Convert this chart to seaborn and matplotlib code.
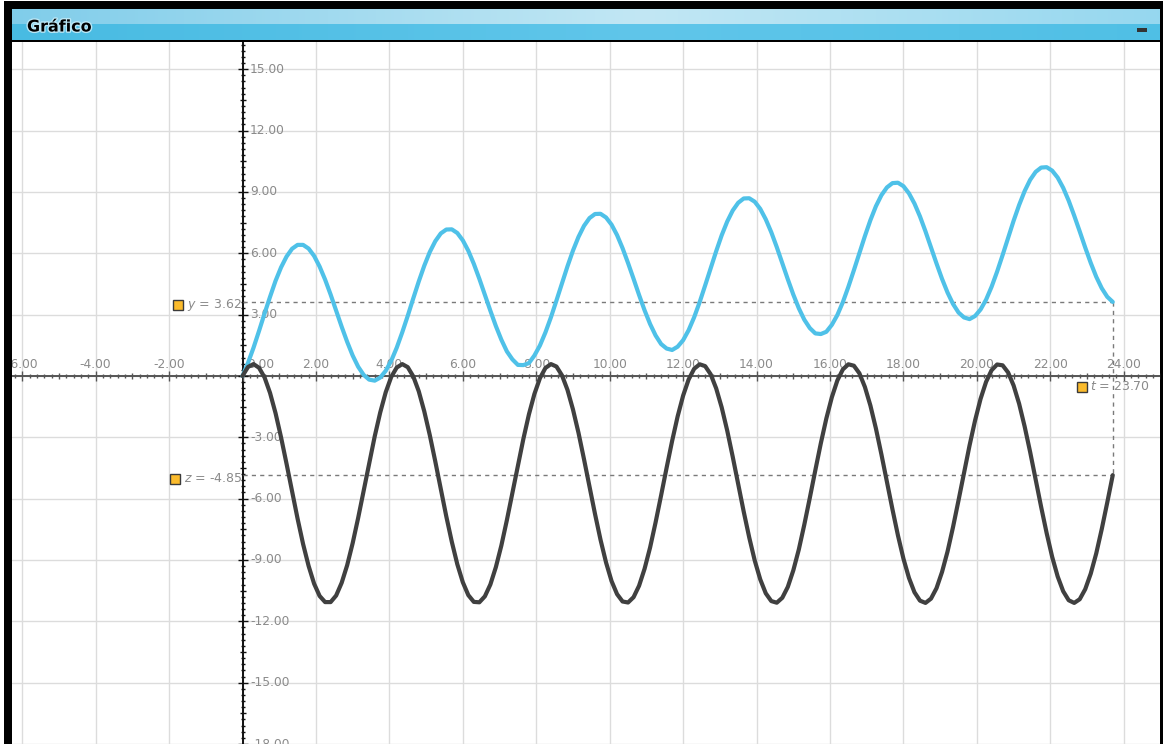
import numpy as np
import matplotlib
matplotlib.use("Agg")
import matplotlib.pyplot as plt
import matplotlib.transforms as mtrans
import matplotlib.patheffects as pe
from matplotlib.patches import Rectangle
import seaborn as sns

# ---------------- data ----------------
t = [0.0, 0.15, 0.3, 0.45, 0.6, 0.75, 0.9, 1.05, 1.2, 1.35,
     1.5, 1.65, 1.8, 1.95, 2.1, 2.25, 2.4, 2.55, 2.7, 2.85,
     3.0, 3.15, 3.3, 3.45, 3.6, 3.75, 3.9, 4.05, 4.2, 4.35,
     4.5, 4.65, 4.8, 4.95, 5.1, 5.25, 5.4, 5.55, 5.7, 5.85,
     6.0, 6.15, 6.3, 6.45, 6.6, 6.75, 6.9, 7.05, 7.2, 7.35,
     7.5, 7.65, 7.8, 7.95, 8.1, 8.25, 8.4, 8.55, 8.7, 8.85,
     9.0, 9.15, 9.3, 9.45, 9.6, 9.75, 9.9, 10.05, 10.2, 10.35,
     10.5, 10.65, 10.8, 10.95, 11.1, 11.25, 11.4, 11.55, 11.7, 11.85,
     12.0, 12.15, 12.3, 12.45, 12.6, 12.75, 12.9, 13.05, 13.2, 13.35,
     13.5, 13.65, 13.8, 13.95, 14.1, 14.25, 14.4, 14.55, 14.7, 14.85,
     15.0, 15.15, 15.3, 15.45, 15.6, 15.75, 15.9, 16.05, 16.2, 16.35,
     16.5, 16.65, 16.8, 16.95, 17.1, 17.25, 17.4, 17.55, 17.7, 17.85,
     18.0, 18.15, 18.3, 18.45, 18.6, 18.75, 18.9, 19.05, 19.2, 19.35,
     19.5, 19.65, 19.8, 19.95, 20.1, 20.25, 20.4, 20.55, 20.7, 20.85,
     21.0, 21.15, 21.3, 21.45, 21.6, 21.75, 21.9, 22.05, 22.2, 22.35,
     22.5, 22.65, 22.8, 22.95, 23.1, 23.25, 23.4, 23.55, 23.7]

y_values = [0.00, 0.64, 1.38, 2.20, 3.05, 3.87, 4.65, 5.31, 5.84, 6.22,
            6.41, 6.41, 6.23, 5.87, 5.35, 4.71, 3.98, 3.20, 2.41, 1.67,
            1.00, 0.45, 0.05, -0.18, -0.23, -0.08, 0.25, 0.74, 1.38, 2.13,
            2.94, 3.79, 4.62, 5.39, 6.06, 6.59, 6.97, 7.16, 7.17, 6.99,
            6.63, 6.12, 5.48, 4.75, 3.97, 3.19, 2.44, 1.77, 1.20, 0.81,
            0.54, 0.53, 0.63, 1.00, 1.49, 2.13, 2.87, 3.69, 4.53, 5.36,
            6.13, 6.80, 7.34, 7.72, 7.92, 7.93, 7.75, 7.40, 6.89, 6.25,
            5.52, 4.75, 3.96, 3.21, 2.54, 1.98, 1.56, 1.34, 1.27, 1.43,
            1.75, 2.24, 2.87, 3.61, 4.43, 5.27, 6.10, 6.88, 7.55, 8.09,
            8.47, 8.68, 8.69, 8.52, 8.17, 7.66, 7.03, 6.30, 5.52, 4.73,
            3.98, 3.31, 2.75, 2.34, 2.08, 2.05, 2.16, 2.50, 2.98, 3.61,
            4.36, 5.17, 6.01, 6.84, 7.62, 8.30, 8.84, 9.22, 9.43, 9.45,
            9.28, 8.93, 8.43, 7.80, 7.07, 6.29, 5.50, 4.75, 4.08, 3.52,
            3.10, 2.86, 2.78, 2.93, 3.25, 3.73, 4.36, 5.10, 5.91, 6.75,
            7.59, 8.36, 9.04, 9.59, 9.98, 10.19, 10.21, 10.04, 9.70, 9.20,
            8.57, 7.84, 7.07, 6.28, 5.53, 4.85, 4.29, 3.87, 3.62]

z_values = [0.00, 0.44, 0.58, 0.40, -0.07, -0.83, -1.82, -3.00, -4.30, -5.65,
            -6.98, -8.22, -9.29, -10.16, -10.76, -11.06, -11.06, -10.74, -10.12, -9.26,
            -8.18, -6.94, -5.61, -4.26, -2.96, -1.79, -0.80, -0.05, 0.41, 0.58,
            0.43, -0.02, -0.75, -1.73, -2.89, -4.18, -5.53, -6.87, -8.11, -9.21,
            -10.09, -10.72, -11.05, -11.07, -10.78, -10.20, -9.35, -8.29, -7.05, -5.72,
            -4.37, -3.07, -1.88, -0.88, -0.11, 0.39, 0.58, 0.46, 0.03, -0.68,
            -1.64, -2.78, -4.07, -5.41, -6.75, -8.01, -9.12, -10.03, -10.67, -11.03,
            -11.08, -10.82, -10.26, -9.43, -8.39, -7.16, -5.84, -4.49, -3.18, -1.98,
            -0.96, -0.17, 0.35, 0.57, 0.48, 0.08, -0.61, -1.54, -2.67, -3.95,
            -5.30, -6.64, -7.90, -9.03, -9.95, -10.63, -11.01, -11.09, -10.85, -10.32,
            -9.51, -8.49, -7.27, -5.96, -4.61, -3.29, -2.08, -1.04, -0.22, 0.32,
            0.57, 0.50, 0.13, -0.54, -1.45, -2.57, -3.84, -5.18, -6.52, -7.80,
            -8.94, -9.88, -10.58, -10.99, -11.10, -10.89, -10.38, -9.59, -8.59, -7.39,
            -6.08, -4.73, -3.40, -2.18, -1.12, -0.29, 0.28, 0.56, 0.52, 0.17,
            -0.47, -1.36, -2.47, -3.72, -5.06, -6.41, -7.69, -8.85, -9.81, -10.53,
            -10.97, -11.10, -10.92, -10.43, -9.67, -8.68, -7.49, -6.19, -4.85]

t_cursor = 23.70
y_cursor = 3.62
z_cursor = -4.85

x_tick_values = [-6, -4, -2, 0, 2, 4, 6, 8, 10, 12, 14, 16, 18, 20, 22, 24]
y_tick_values = [-18, -15, -12, -9, -6, -3, 3, 6, 9, 12, 15]
window_title = "Gráfico"

# ---------------- style ----------------
sns.set_theme(style="white")
plt.rcParams['font.family'] = ['DejaVu Sans']
plt.rcParams['mathtext.fontset'] = 'dejavusans'

W, H = 1163, 744
fig = plt.figure(figsize=(W / 100, H / 100), dpi=100)
fig.patch.set_facecolor('black')

# white margins outside the black window frame
fig.patches.append(Rectangle((0, 0), 4 / W, 1, transform=fig.transFigure,
                             facecolor='white', edgecolor='none', zorder=-5))
fig.patches.append(Rectangle((0, (H - 1) / H), 1, 1 / H, transform=fig.transFigure,
                             facecolor='white', edgecolor='none', zorder=-5))

# title bar
tb = fig.add_axes([12 / W, (H - 40) / H, (1160 - 12) / W, 31 / H])
n = 400
xs = np.linspace(0, 1, n)
top_l = np.array([0x80, 0xcd, 0xea]) / 255
top_m = np.array([0xc2, 0xe7, 0xf4]) / 255
top_r = np.array([0x8c, 0xd4, 0xee]) / 255
bot_l = np.array([0x48, 0xbb, 0xe2]) / 255
bot_m = np.array([0x60, 0xc6, 0xea]) / 255
bot_r = np.array([0x4c, 0xbe, 0xe4]) / 255
def grad(a, m, b):
    w = np.clip(1 - np.abs(xs - 0.55) / 0.55, 0, 1)[:, None]
    edge = np.where(xs[:, None] < 0.55, a, b)
    return edge * (1 - w) + m * w
img = np.zeros((31, n, 3))
img[:15] = grad(top_l, top_m, top_r)[None]
img[15:] = grad(bot_l, bot_m, bot_r)[None]
tb.imshow(img, aspect='auto', interpolation='nearest', extent=(0, 1, 0, 1))
tb.set_axis_off()
tb.text(15 / 1148, 0.42, window_title, transform=tb.transAxes, fontsize=11.5,
        fontweight='bold', color='black', ha='left', va='center',
        path_effects=[pe.withStroke(linewidth=2, foreground='#b9e6f5')])
tb.add_patch(Rectangle(((1137 - 12) / 1148, 0.27), 10 / 1148, 0.12,
                       transform=tb.transAxes, facecolor='#333333', edgecolor='none'))

# ---------------- plot area ----------------
ax = fig.add_axes([12 / W, 0, (1160 - 12) / W, (H - 42) / H])
ax.set_facecolor('white')
x0px, sx = 242.5, 36.72
y0px, sy = 376.8, 20.5
ax.set_xlim((12 - x0px) / sx, (1160 - x0px) / sx)
ax.set_ylim(-(744 - y0px) / sy, (y0px - 42) / sy)
for s in ax.spines.values():
    s.set_visible(False)
ax.set_xticks(x_tick_values)
ax.set_yticks(y_tick_values + [0])
ax.tick_params(length=0, labelbottom=False, labelleft=False)
ax.grid(True, color='#dcdcdc', linewidth=1)
ax.set_axisbelow(True)
ax.set_xlabel('')
ax.set_ylabel('')

# axis lines
ax.axhline(0, color='#555555', lw=1.4, zorder=2)
ax.axvline(0, color='#111111', lw=1.4, zorder=2)

# tick marks
xm = np.round(np.arange(-32, 127) * 0.2, 1)
is_even = np.isclose(xm / 2, np.round(xm / 2))
is_odd = np.isclose(xm, np.round(xm)) & ~is_even
small = ~(is_even | is_odd)
for mask, size in ((small, 3), (is_odd, 5), (is_even, 7.5)):
    ax.plot(xm[mask], np.zeros(mask.sum()), ls='none', marker='|',
            ms=size, mew=1, color='#555555', zorder=2)
ym = np.round(np.arange(-61, 56) * 0.3, 1)
y_major = np.isclose(ym / 3, np.round(ym / 3))
y_mid = np.isclose(ym / 1.5, np.round(ym / 1.5)) & ~y_major
y_small = ~(y_major | y_mid)
for mask, size in ((y_small, 3), (y_mid, 5), (y_major, 7.5)):
    ax.plot(np.zeros(mask.sum()), ym[mask], ls='none', marker='_',
            ms=size, mew=1, color='#111111', zorder=2)

# tick labels
px = 72 / 100  # points per pixel
lab_color = '#8a8a8a'
for v in x_tick_values:
    if v == 0:
        ax.annotate(f"{v:.2f}", xy=(v, 0), xytext=(5 * px, 7.5 * px), textcoords='offset points',
                    ha='left', va='baseline', fontsize=8.8, color=lab_color,
                    annotation_clip=False, clip_on=True, zorder=2.5)
    else:
        ax.annotate(f"{v:.2f}", xy=(v, 0), xytext=(0, 7.5 * px), textcoords='offset points',
                    ha='center', va='baseline', fontsize=8.8, color=lab_color,
                    annotation_clip=False, clip_on=True, zorder=2.5)
for v in y_tick_values:
    ax.annotate(f"{v:.2f}", xy=(0, v), xytext=(7.5 * px, 0), textcoords='offset points',
                ha='left', va='center', fontsize=8.8, color=lab_color,
                annotation_clip=False, clip_on=True, zorder=2.5)

# curves
blue = '#4fc1e8'
dark = '#404040'
sns.lineplot(x=t, y=y_values, ax=ax, color=blue, linewidth=3, sort=False,
             estimator=None, zorder=4)
sns.lineplot(x=t, y=z_values, ax=ax, color=dark, linewidth=3, sort=False,
             estimator=None, zorder=4)

# cursor lines
dash_kw = dict(color='#7a7a7a', lw=1, ls=(0, (3, 3)), zorder=3)
ax.plot([0, t_cursor], [y_cursor, y_cursor], **dash_kw)
ax.plot([0, t_cursor], [z_cursor, z_cursor], **dash_kw)
ax.plot([t_cursor, t_cursor], [y_cursor, z_cursor], **dash_kw)

# cursor labels
sq_kw = dict(ls='none', marker='s', ms=7.5, mfc='#fbbb2c', mec='#3a3a3a', mew=1, zorder=5)
ax.annotate(f"$y$ = {y_cursor:.2f}", xy=(0, y_cursor), xytext=(-1 * px, -3.5 * px),
            textcoords='offset points', ha='right', va='center', fontsize=9,
            color=lab_color, zorder=5)
ax.plot([0], [y_cursor], transform=mtrans.offset_copy(ax.transData, fig, x=-65, y=-3.5, units='dots'), **sq_kw)
ax.annotate(f"$z$ = {z_cursor:.2f}", xy=(0, z_cursor), xytext=(-1 * px, -3.5 * px),
            textcoords='offset points', ha='right', va='center', fontsize=9,
            color=lab_color, zorder=5)
ax.plot([0], [z_cursor], transform=mtrans.offset_copy(ax.transData, fig, x=-68, y=-3.5, units='dots'), **sq_kw)
ax.annotate(f"$t$ = {t_cursor:.2f}", xy=(t_cursor, 0), xytext=(-22.5 * px, -11 * px),
            textcoords='offset points', ha='left', va='center', fontsize=9,
            color=lab_color, zorder=5)
ax.plot([t_cursor], [0], transform=mtrans.offset_copy(ax.transData, fig, x=-31, y=-11, units='dots'), **sq_kw)

fig.savefig("out.png", dpi=100, facecolor=fig.get_facecolor())
